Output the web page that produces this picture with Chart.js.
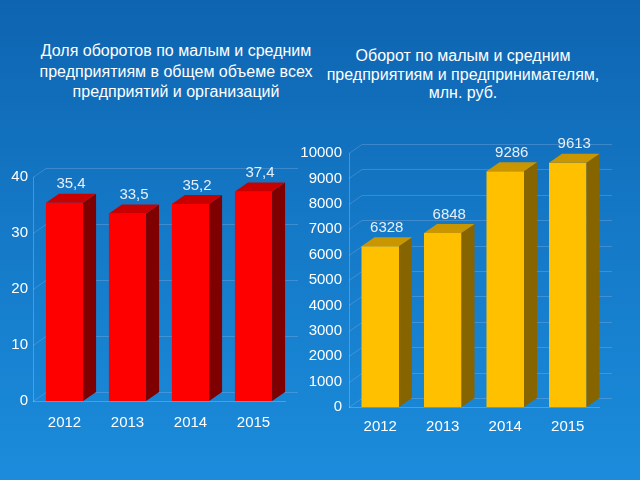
<!DOCTYPE html>
<html>
<head>
<meta charset="utf-8">
<script src="https://cdn.jsdelivr.net/npm/chart.js@4.4.1/dist/chart.umd.min.js"></script>
<style>
  html, body { margin: 0; padding: 0; }
  body {
    width: 640px; height: 480px; overflow: hidden; position: relative;
    background: linear-gradient(180deg, #0e64b0 0%, #1478c6 45%, #1b8cdb 100%);
    font-family: "Liberation Sans", Arial, sans-serif;
  }
  .title { position: absolute; color: #ffffff; font-size: 16px; text-align: center; }
  #t1 { left: 16px; width: 320px; top: 41px; line-height: 20.5px; }
  #t2 { left: 303px; width: 320px; top: 47px; line-height: 18.5px; }
  canvas { position: absolute; }
  #left { left: 0; top: 120px; }
  #right { left: 300px; top: 120px; }
</style>
</head>
<body>
<div class="title" id="t1">Доля оборотов по малым и средним<br>предприятиям в общем объеме всех<br>предприятий и организаций</div>
<div class="title" id="t2">Оборот по малым и средним<br>предприятиям и предпринимателям,<br>млн. руб.</div>
<canvas id="left" width="320" height="330"></canvas>
<canvas id="right" width="340" height="330"></canvas>
<script>
// данные
const years = ["2012", "2013", "2014", "2015"];
const shareValues = [35.4, 33.5, 35.2, 37.4];
const turnoverValues = [6328, 6848, 9286, 9613];
const shareTicks = [0, 10, 20, 30, 40];
const turnoverTicks = [0, 1000, 2000, 3000, 4000, 5000, 6000, 7000, 8000, 9000, 10000];

const DX = 13, DY = 9;
const font = "Liberation Sans, Arial, sans-serif";

// 3D бары: задняя сетка, боковая и верхняя грани, подписи значений
const bar3d = {
  id: 'bar3d',
  beforeDatasetsDraw(chart) {
    const ctx = chart.ctx, a = chart.chartArea, y = chart.scales.y;
    ctx.save();
    ctx.strokeStyle = 'rgba(190,200,230,0.25)';
    ctx.lineWidth = 1;
    y.ticks.forEach(t => {
      const py = Math.round(y.getPixelForValue(t.value)) + 0.5;
      ctx.beginPath();
      ctx.moveTo(a.left, py);
      ctx.lineTo(a.left + DX, py - DY);
      ctx.lineTo(a.right + DX, py - DY);
      ctx.stroke();
    });
    ctx.restore();
  },
  afterDatasetsDraw(chart) {
    const ctx = chart.ctx;
    const opts = chart.options.plugins.bar3d;
    const meta = chart.getDatasetMeta(0);
    const data = chart.data.datasets[0].data;
    ctx.save();
    meta.data.forEach((bar, i) => {
      const l = bar.x - bar.width / 2, r = bar.x + bar.width / 2;
      const top = bar.y, base = bar.base;
      ctx.fillStyle = opts.side;
      ctx.beginPath();
      ctx.moveTo(r, top); ctx.lineTo(r + DX, top - DY);
      ctx.lineTo(r + DX, base - DY); ctx.lineTo(r, base);
      ctx.closePath(); ctx.fill();
      ctx.fillStyle = opts.top;
      ctx.beginPath();
      ctx.moveTo(l, top); ctx.lineTo(l + DX, top - DY);
      ctx.lineTo(r + DX, top - DY); ctx.lineTo(r, top);
      ctx.closePath(); ctx.fill();
      ctx.fillStyle = opts.labelColor;
      ctx.font = '15px ' + font;
      ctx.textAlign = 'center';
      ctx.textBaseline = 'bottom';
      const txt = data[i].toFixed(opts.decimals).replace('.', ',');
      ctx.fillText(txt, bar.x + DX / 2, top - DY - 2);
    });
    ctx.restore();
  }
};

function makeChart(id, values, ticks, colors, decimals, pad, yWidth, yPad, xPad, barPct) {
  return new Chart(document.getElementById(id), {
    type: 'bar',
    data: {
      labels: years,
      datasets: [{
        data: values,
        backgroundColor: colors.front,
        borderWidth: 0,
        barPercentage: barPct,
        categoryPercentage: 1
      }]
    },
    options: {
      responsive: false,
      animation: false,
      layout: { padding: pad },
      plugins: {
        legend: { display: false },
        tooltip: { enabled: false },
        bar3d: { side: colors.side, top: colors.top, labelColor: '#e9eef6', decimals: decimals }
      },
      scales: {
        x: {
          grid: { display: false, drawTicks: false },
          border: { color: 'rgba(190,200,230,0.35)' },
          ticks: { color: '#ffffff', font: { family: font, size: 15 }, padding: xPad },
          afterFit(s) { s.height = 30; }
        },
        y: {
          min: ticks[0],
          max: ticks[ticks.length - 1],
          afterBuildTicks(s) { s.ticks = ticks.map(v => ({ value: v })); },
          grid: { display: false, drawTicks: false },
          border: { color: 'rgba(190,200,230,0.35)' },
          ticks: {
            color: '#ffffff',
            font: { family: font, size: 15 },
            padding: yPad,
            callback: v => String(v)
          },
          afterFit(s) { s.width = yWidth; }
        }
      }
    },
    plugins: [bar3d]
  });
}

makeChart('left', shareValues, shareTicks,
  { front: '#ff0000', top: '#c80000', side: '#7e0000' }, 1,
  { left: 0, top: 57, right: 35, bottom: 19 }, 33, 5, 13, 0.59);

makeChart('right', turnoverValues, turnoverTicks,
  { front: '#ffc000', top: '#c99600', side: '#866400' }, 0,
  { left: 0, top: 33, right: 41, bottom: 13 }, 49, 7, 11, 0.6);
</script>
</body>
</html>
